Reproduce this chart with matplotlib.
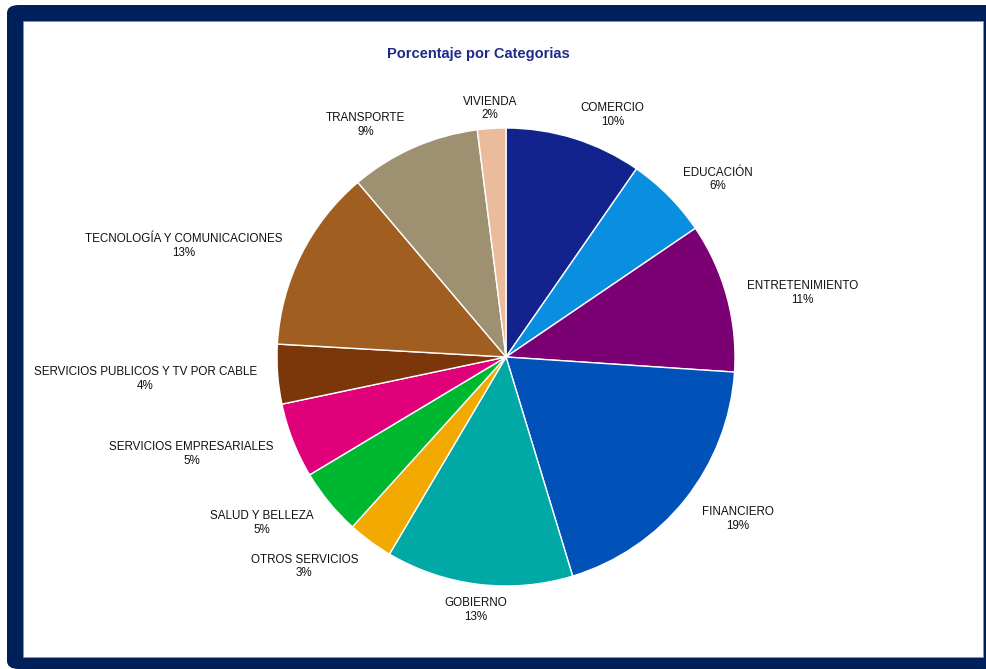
import numpy as np
import matplotlib
matplotlib.use("Agg")
import matplotlib.pyplot as plt
from matplotlib.patches import FancyBboxPatch, Rectangle

categories = [
    "COMERCIO", "EDUCACIÓN", "ENTRETENIMIENTO", "FINANCIERO", "GOBIERNO",
    "OTROS SERVICIOS", "SALUD Y BELLEZA", "SERVICIOS EMPRESARIALES",
    "SERVICIOS PUBLICOS Y TV POR CABLE", "TECNOLOGÍA Y COMUNICACIONES",
    "TRANSPORTE", "VIVIENDA",
]
percentages = [9.65, 5.85, 10.55, 19.25, 13.2, 3.2, 4.7, 5.3, 4.2, 12.9, 9.2, 2.0]
colors = [
    "#13238E", "#0A8FE0", "#7A0073", "#0052B8", "#00A9A5", "#F2A900",
    "#00B830", "#E0007A", "#7B3609", "#A05E20", "#9E9172", "#EBBC9C",
]
title = "Porcentaje por Categorias"

W, H = 987, 669
fig = plt.figure(figsize=(W / 100, H / 100), dpi=100)
fig.patch.set_facecolor("white")

# navy frame with rounded corner, white panel inside
navy = "#00205B"
fig.patches.append(FancyBboxPatch((7 / W, 0), (W + 20 - 7) / W, (H - 5) / H,
                                  boxstyle="round,pad=0,rounding_size=0.012",
                                  transform=fig.transFigure, facecolor=navy,
                                  edgecolor="none", zorder=0))
fig.patches.append(Rectangle((23 / W, (H - 657) / H), (983 - 23) / W, (657 - 21) / H,
                             transform=fig.transFigure, facecolor="white",
                             edgecolor="#7F93B5", linewidth=0.6, zorder=1))

plt.rcParams["font.family"] = ["Liberation Sans", "DejaVu Sans"]

cx, cy, r = 506, 357, 229
ax = fig.add_axes([(cx - r) / W, (H - cy - r) / H, 2 * r / W, 2 * r / H])
ax.set_zorder(2)
ax.patch.set_alpha(0)

wedges, _ = ax.pie(percentages, colors=colors, startangle=90, counterclock=False,
                   wedgeprops=dict(edgecolor="white", linewidth=1.0))
ax.set_xlim(-1, 1)
ax.set_ylim(-1, 1)
ax.set_aspect("equal")
ax.axis("off")

for w, name, pct in zip(wedges, categories, percentages):
    mid = np.deg2rad((w.theta1 + w.theta2) / 2)
    x, y = np.cos(mid), np.sin(mid)
    if x > 0.2:
        ha, kx, ky = "left", 1.09, 1.12
    elif x < -0.2:
        ha, kx, ky = "right", 1.09, 1.12
    else:
        ha, kx, ky = "center", 1.10, 1.10
    ax.text(kx * x, ky * y - 0.013, f"{name}\n{round(pct)}%", ha=ha, va="center",
            multialignment="center", fontsize=8.4, color="#111111",
            linespacing=1.2, clip_on=False)

fig.text(478 / W, 1 - 54 / H, title, ha="center", va="center",
         fontsize=10.5, fontweight="bold", color="#1F2A8A", zorder=3)

fig.savefig("out.png", dpi=100)
